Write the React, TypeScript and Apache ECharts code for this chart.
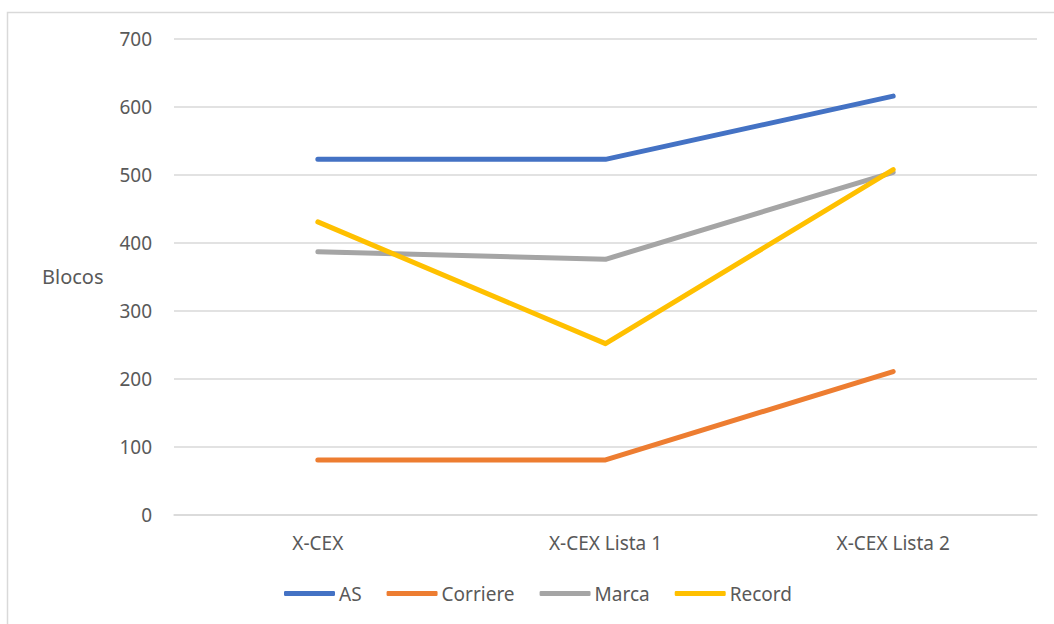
import React, { useEffect, useRef } from "react";
import * as echarts from "echarts";

const categories = ["X-CEX", "X-CEX Lista 1", "X-CEX Lista 2"];
const seriesNames = ["AS", "Corriere", "Marca", "Record"];
const asValues = [523, 523, 616];
const corriereValues = [81, 81, 211];
const marcaValues = [387, 376, 504];
const recordValues = [431, 252, 508];
const colors = ["#4472C4", "#ED7D31", "#A5A5A5", "#FFC000"];
const yAxisTitle = "Blocos";

const FONT = "'Noto Sans', 'Open Sans', sans-serif";
const TEXT_COLOR = "#595959";

export default function App() {
  const ref = useRef<HTMLDivElement>(null);

  useEffect(() => {
    if (!ref.current) return;
    const chart = echarts.init(ref.current, undefined, { renderer: "svg" });
    const valueSets = [asValues, corriereValues, marcaValues, recordValues];
    chart.setOption({
      animation: false,
      backgroundColor: "#ffffff",
      color: colors,
      textStyle: { fontFamily: FONT },
      grid: { left: 174, right: 17, top: 39, bottom: 109, containLabel: false },
      graphic: [
        {
          type: "rect",
          shape: { x: 7.5, y: 12.5, width: 1100, height: 700 },
          style: { fill: "none", stroke: "#d9d9d9", lineWidth: 1.5 },
          silent: true,
          z: -1,
        },
        {
          type: "text",
          left: 42,
          top: 266,
          style: { text: yAxisTitle, fill: TEXT_COLOR, font: `20px ${FONT}` },
        },
      ],
      legend: {
        data: seriesNames,
        bottom: 16,
        left: 279,
        itemWidth: 51,
        itemHeight: 5,
        itemGap: 25,
        icon: "roundRect",
        textStyle: { color: TEXT_COLOR, fontSize: 19, fontFamily: FONT, padding: [0, 0, 0, -1] },
      },
      xAxis: {
        type: "category",
        data: categories,
        boundaryGap: true,
        axisLine: { show: true, lineStyle: { color: "#d9d9d9", width: 1.5 } },
        axisTick: { show: false },
        axisLabel: { color: TEXT_COLOR, fontSize: 19, fontFamily: FONT, margin: 18 },
      },
      yAxis: {
        type: "value",
        min: 0,
        max: 700,
        interval: 100,
        axisLine: { show: false },
        axisTick: { show: false },
        axisLabel: { color: TEXT_COLOR, fontSize: 19, fontFamily: FONT, margin: 22 },
        splitLine: { lineStyle: { color: "#d9d9d9", width: 1.5 } },
      },
      series: seriesNames.map((name, i) => ({
        name,
        type: "line",
        data: valueSets[i],
        showSymbol: false,
        symbol: "none",
        lineStyle: { width: 5, color: colors[i], cap: "round", join: "round" },
        itemStyle: { color: colors[i] },
      })),
    });
    return () => chart.dispose();
  }, []);

  return (
    <div
      ref={ref}
      style={{ position: "fixed", left: 0, top: 0, width: 1054, height: 624 }}
    />
  );
}
